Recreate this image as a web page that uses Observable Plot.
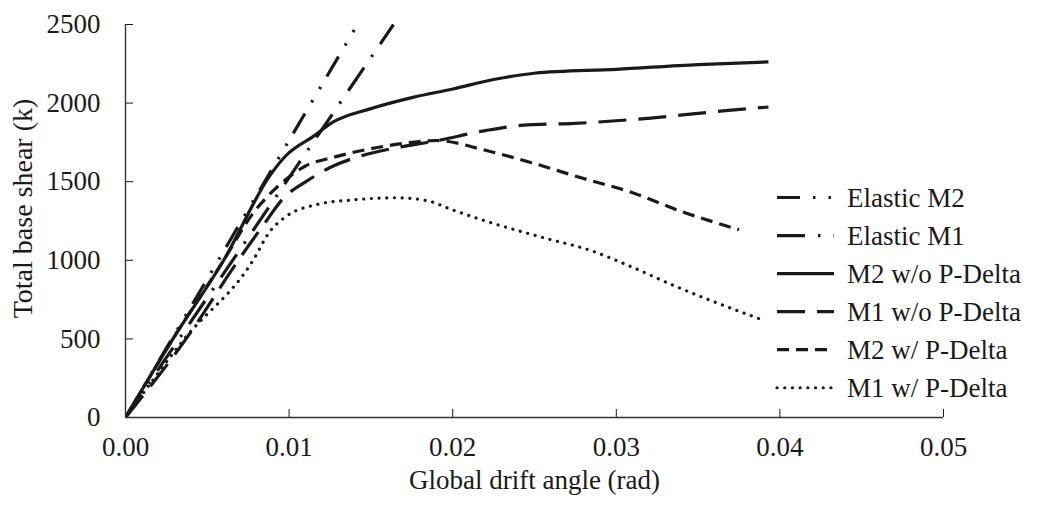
<!DOCTYPE html>
<html><head><meta charset="utf-8">
<script src="https://cdn.jsdelivr.net/npm/d3@7"></script>
<script src="https://cdn.jsdelivr.net/npm/@observablehq/plot@0.6"></script>
<style>
html,body{margin:0;padding:0;background:#fff;}
#chart{position:relative;width:1037px;height:507px;}
#legend{position:absolute;left:0;top:0;pointer-events:none;}
</style></head><body><div id="chart"></div>
<script>
// ---- data (drift angle rad, base shear k) ----
const seriesNames = ["Elastic M2","Elastic M1","M2 w/o P-Delta","M1 w/o P-Delta","M2 w/ P-Delta","M1 w/ P-Delta"];
const elasticM2 = [[0,0],[0.01418,2500]];
const elasticM1 = [[0,0],[0.01638,2500]];
const m2NoPDelta = [[0,0],[0.0029,500],[0.0060,1000],[0.0089,1550],[0.0098,1665],[0.0115,1790],[0.0127,1880],[0.0150,1965],[0.0175,2035],[0.0200,2090],[0.0225,2150],[0.0250,2190],[0.0300,2215],[0.0350,2245],[0.0393,2262]];
const m1NoPDelta = [[0,0],[0.0037,500],[0.0069,1000],[0.0084,1220],[0.0097,1400],[0.0111,1505],[0.0125,1590],[0.0141,1655],[0.0165,1715],[0.0190,1760],[0.0220,1825],[0.0246,1862],[0.0272,1870],[0.0321,1905],[0.0365,1950],[0.0393,1975]];
const m2WithPDelta = [[0,0],[0.0029,500],[0.0060,1000],[0.0078,1300],[0.0090,1440],[0.0100,1530],[0.0110,1600],[0.0127,1655],[0.0150,1710],[0.0175,1750],[0.0190,1762],[0.0220,1700],[0.0250,1615],[0.0280,1520],[0.0310,1430],[0.0340,1310],[0.0375,1195]];
const m1WithPDelta = [[0,0],[0.0036,500],[0.0078,1000],[0.0088,1180],[0.0097,1270],[0.0117,1355],[0.0140,1385],[0.0165,1398],[0.0184,1380],[0.0200,1320],[0.0220,1250],[0.0255,1145],[0.0285,1060],[0.0310,955],[0.0335,840],[0.0360,735],[0.0391,615]];
const xTicks = [0,0.01,0.02,0.03,0.04,0.05];
const yTicks = [0,500,1000,1500,2000,2500];
const xTitle = "Global drift angle (rad)";
const yTitle = "Total base shear (k)";

// ---- styles ----
const styles = {
  "Elastic M2": {dash: "23,13,2.5,13,2.5,12", cap: "butt"},
  "Elastic M1": {dash: "28,13,2.5,13", cap: "butt"},
  "M2 w/o P-Delta": {dash: null, cap: "butt"},
  "M1 w/o P-Delta": {dash: "28,12", cap: "butt"},
  "M2 w/ P-Delta": {dash: "12,7", cap: "butt"},
  "M1 w/ P-Delta": {dash: "0.1,7.6", cap: "round"}
};
const seriesData = [elasticM2, elasticM1, m2NoPDelta, m1NoPDelta, m2WithPDelta, m1WithPDelta];
const FONT = "'Liberation Serif','Times New Roman',serif";
const INK = "#1a1a1a";

const lineMarks = seriesNames.map((name, i) => Plot.line(seriesData[i], {
  x: d => d[0], y: d => d[1],
  stroke: INK, strokeWidth: 3.2,
  strokeDasharray: styles[name].dash, strokeLinecap: styles[name].cap,
  curve: "monotone-x", clip: true
}));

const plot = Plot.plot({
  width: 1037, height: 507,
  marginLeft: 125, marginRight: 94, marginTop: 24, marginBottom: 90,
  style: {fontFamily: FONT, fontSize: "27px", color: INK, background: "#fff"},
  x: {domain: [0, 0.05], ticks: xTicks, tickFormat: d3.format(".2f"), tickSize: -8, tickPadding: 27, label: null},
  y: {domain: [0, 2500], ticks: yTicks, tickFormat: d => String(d), tickSize: -8, tickPadding: 33, label: null},
  marks: [
    ...lineMarks,
    Plot.ruleX([0], {stroke: "#333", strokeWidth: 1.4}),
    Plot.ruleY([0], {stroke: "#333", strokeWidth: 1.4}),
    Plot.text([xTitle], {text: d => d, frameAnchor: "bottom", textAnchor: "middle", dy: 71, lineAnchor: "bottom", fill: INK}),
    Plot.text([yTitle], {text: d => d, frameAnchor: "left", textAnchor: "middle", rotate: -90, dx: -102, dy: -12.5, lineAnchor: "middle", fill: INK, fontSize: 28})
  ]
});
const chart = document.getElementById("chart");
chart.appendChild(plot);

// ---- legend overlay ----
const leg = d3.select(chart).append("svg").attr("id", "legend")
  .attr("width", 1037).attr("height", 507);
const legX0 = 777, legX1 = 834, legTextX = 847, legBase0 = 206.5, legStep = 38.05;
seriesNames.forEach((name, i) => {
  const base = legBase0 + i * legStep;
  leg.append("rect").attr("x", legX0 - 4).attr("y", base - 22).attr("width", 255).attr("height", 30).attr("fill", "#fff");
});
seriesNames.forEach((name, i) => {
  const base = legBase0 + i * legStep;
  const ly = base - 9;
  leg.append("line").attr("x1", legX0).attr("x2", legX1).attr("y1", ly).attr("y2", ly)
    .attr("stroke", INK).attr("stroke-width", 3.2)
    .attr("stroke-dasharray", styles[name].dash).attr("stroke-linecap", styles[name].cap);
  leg.append("text").attr("x", legTextX).attr("y", base)
    .attr("font-family", FONT).attr("font-size", 27).attr("fill", INK).text(name);
});
</script></body></html>
